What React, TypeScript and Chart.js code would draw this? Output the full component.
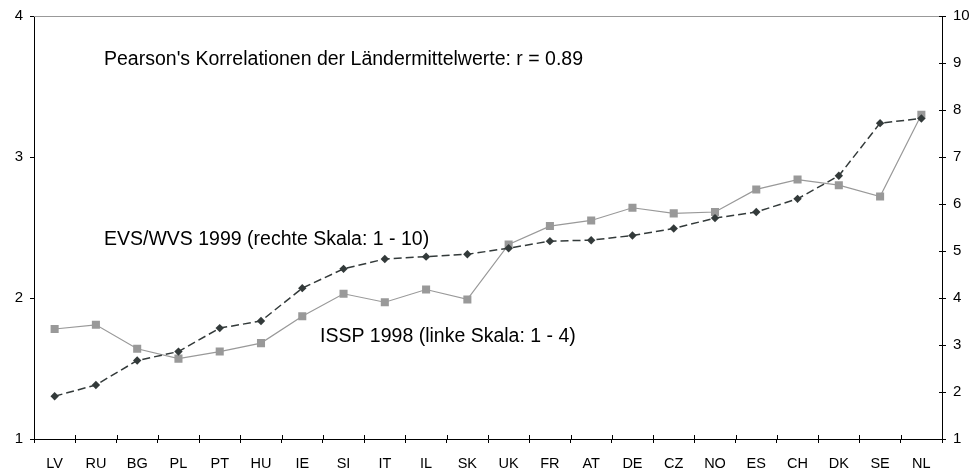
import React, { useEffect, useRef } from "react";
import { Chart, registerables } from "chart.js";

Chart.register(...registerables);

const categories = ["LV","RU","BG","PL","PT","HU","IE","SI","IT","IL","SK","UK","FR","AT","DE","CZ","NO","ES","CH","DK","SE","NL"];
const isspValues = [1.78,1.81,1.64,1.57,1.62,1.68,1.87,2.03,1.97,2.06,1.99,2.38,2.51,2.55,2.64,2.60,2.61,2.77,2.84,2.80,2.72,3.30];
const evsValues = [1.91,2.15,2.67,2.86,3.36,3.51,4.21,4.62,4.83,4.88,4.93,5.06,5.21,5.23,5.33,5.48,5.70,5.83,6.11,6.60,7.72,7.82];
const leftTicks = [1, 2, 3, 4];
const rightTicks = [1, 2, 3, 4, 5, 6, 7, 8, 9, 10];
const annotations = [
  { text: "Pearson's Korrelationen der Ländermittelwerte: r = 0.89", x: 104, y: 60 },
  { text: "EVS/WVS 1999 (rechte Skala: 1 - 10)", x: 104, y: 240 },
  { text: "ISSP 1998 (linke Skala: 1 - 4)", x: 320, y: 337 },
];

const FONT = "Arial, 'Liberation Sans', sans-serif";

export default function App() {
  const ref = useRef<HTMLCanvasElement | null>(null);
  useEffect(() => {
    if (!ref.current) return;
    const textPlugin = {
      id: "texts",
      afterDraw(chart: any) {
        const ctx = chart.ctx;
        ctx.save();
        ctx.fillStyle = "#000";
        ctx.font = `19.5px ${FONT}`;
        ctx.textBaseline = "middle";
        ctx.textAlign = "left";
        for (const a of annotations) ctx.fillText(a.text, a.x, a.y);
        const ca = chart.chartArea;
        ctx.strokeStyle = "#999";
        ctx.lineWidth = 1;
        ctx.beginPath();
        ctx.moveTo(ca.left, Math.round(ca.top) + 0.5);
        ctx.lineTo(ca.right, Math.round(ca.top) + 0.5);
        ctx.stroke();
        // inward halves of ticks on x axis and right axis (ticks cross the axis)
        ctx.strokeStyle = "#000";
        ctx.beginPath();
        const xs = chart.scales.x;
        for (let i = 0; i <= categories.length; i++) {
          const px = Math.round(xs.left + (xs.width * i) / categories.length) + 0.5;
          ctx.moveTo(px, ca.bottom - 4);
          ctx.lineTo(px, ca.bottom);
        }
        const ys = chart.scales.y1;
        for (const v of rightTicks) {
          const py = Math.round(ys.getPixelForValue(v)) + 0.5;
          ctx.moveTo(ca.right - 3, py);
          ctx.lineTo(ca.right, py);
        }
        ctx.stroke();
        ctx.restore();
      },
    };
    const chart = new Chart(ref.current, {
      type: "line",
      data: {
        labels: categories,
        datasets: [
          {
            label: "EVS/WVS 1999",
            data: evsValues,
            yAxisID: "y1",
            borderColor: "#333a3a",
            backgroundColor: "#333a3a",
            borderWidth: 1.5,
            borderDash: [8, 4],
            pointStyle: "rectRot",
            pointRadius: 4.2,
            pointBorderWidth: 0,
            tension: 0,
            order: 0,
          },
          {
            label: "ISSP 1998",
            data: isspValues,
            yAxisID: "y",
            borderColor: "#999999",
            backgroundColor: "#999999",
            borderWidth: 1.2,
            pointStyle: "rect",
            pointRadius: 5.7,
            pointBorderWidth: 0,
            tension: 0,
            order: 1,
          },
        ],
      },
      options: {
        animation: false,
        responsive: false,
        maintainAspectRatio: false,
        layout: { padding: { top: 16, left: 0, right: 0, bottom: 0 } },
        plugins: { legend: { display: false }, tooltip: { enabled: false } },
        scales: {
          x: {
            offset: true,
            grid: {
              offset: true,
              drawOnChartArea: false,
              tickLength: 4,
              color: "#000",
            },
            border: { color: "#000", width: 1 },
            ticks: { color: "#000", font: { family: FONT, size: 14.5 }, padding: 12, maxRotation: 0, autoSkip: false },
            afterFit(s: any) { s.height = 36; },
          },
          y: {
            position: "left",
            min: 1,
            max: 4,
            afterBuildTicks(s: any) { s.ticks = leftTicks.map((v) => ({ value: v })); },
            grid: { drawOnChartArea: false, tickLength: 4, color: "#000" },
            border: { color: "#000", width: 1 },
            ticks: { color: "#000", font: { family: FONT, size: 15 }, padding: 7 },
            afterFit(s: any) { s.width = 34; },
          },
          y1: {
            position: "right",
            min: 1,
            max: 10,
            afterBuildTicks(s: any) { s.ticks = rightTicks.map((v) => ({ value: v })); },
            grid: { drawOnChartArea: false, tickLength: 4, color: "#000" },
            border: { color: "#000", width: 1 },
            ticks: { color: "#000", font: { family: FONT, size: 15 }, padding: 7 },
            afterFit(s: any) { s.width = 38; },
          },
        },
      },
      plugins: [textPlugin],
    });
    return () => chart.destroy();
  }, []);
  return (
    <div style={{ position: "fixed", left: 0, top: 0, width: 980, height: 475, background: "#fff" }}>
      <canvas ref={ref} width={980} height={475} style={{ width: 980, height: 475, display: "block" }} />
    </div>
  );
}
